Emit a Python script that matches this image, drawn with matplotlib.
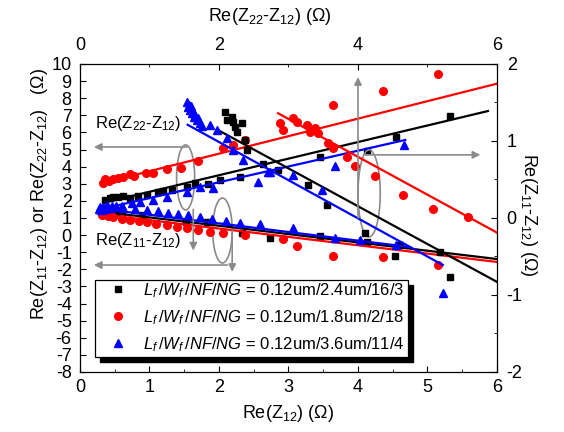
import matplotlib
matplotlib.use("Agg")
import matplotlib.pyplot as plt
from matplotlib.patches import Ellipse, Rectangle
from matplotlib.ticker import MultipleLocator

plt.rcParams["font.family"] = ["Liberation Sans", "DejaVu Sans"]
plt.rcParams["mathtext.fontset"] = "custom"
plt.rcParams["mathtext.rm"] = "Liberation Sans"
plt.rcParams["mathtext.it"] = "Liberation Sans:italic"
plt.rcParams["axes.unicode_minus"] = False

devices = ["0.12um/2.4um/16/3", "0.12um/1.8um/2/18", "0.12um/3.6um/11/4"]
colors = ["black", "red", "blue"]
markers = ["s", "o", "^"]
msizes = [4.2, 5.5, 5.8]

# ---- Re(Z22-Z12) vs Re(Z12)  (left / bottom axes)
z12_a_blk = [0.36, 0.43, 0.48, 0.55, 0.62, 0.72, 0.84, 0.96, 1.12, 1.20, 1.32, 1.54, 1.65, 1.84, 2.01, 2.30, 2.63, 2.85, 3.45, 4.13, 4.55, 5.32]
z22_a_blk = [2.05, 2.17, 2.22, 2.22, 2.28, 2.17, 2.28, 2.34, 2.52, 2.58, 2.64, 2.81, 3.05, 3.00, 3.22, 3.40, 4.16, 3.80, 4.56, 4.92, 5.73, 6.96]
z12_a_red = [0.33, 0.36, 0.42, 0.48, 0.55, 0.62, 0.72, 0.78, 0.95, 1.05, 1.25, 1.45, 1.70, 2.06, 2.20, 2.37, 3.64, 4.36, 5.15]
z22_a_red = [3.05, 3.25, 3.15, 3.30, 3.35, 3.40, 3.55, 3.45, 3.60, 3.65, 3.85, 3.90, 4.35, 5.10, 5.27, 5.56, 7.60, 8.42, 9.42]
z12_a_blu = [0.28, 0.30, 0.33, 0.36, 0.39, 0.45, 0.52, 0.60, 0.75, 0.86, 1.05, 1.25, 1.54, 1.73, 1.92, 2.56, 2.70, 3.67, 4.66]
z22_a_blu = [1.55, 1.45, 1.65, 1.52, 1.76, 1.60, 1.72, 1.70, 1.88, 1.93, 2.05, 2.22, 2.52, 2.81, 2.75, 3.10, 3.69, 4.04, 5.27]

# ---- Re(Z11-Z12) vs Re(Z12)  (left / bottom axes)
z12_f_blk = [0.35, 0.42, 0.50, 0.60, 0.89, 1.10, 1.53, 1.83, 2.33, 2.73, 3.45, 4.13, 4.53, 4.60]
z11_f_blk = [1.40, 1.30, 1.35, 1.25, 1.20, 0.70, 0.77, 0.77, 0.12, -0.17, -0.05, -0.40, -1.22, -0.58]
z12_f_red = [0.32, 0.40, 0.48, 0.60, 0.72, 0.85, 0.96, 1.10, 1.25, 1.40, 1.54, 1.70, 1.87, 2.06, 2.37, 2.92, 3.12, 3.64, 4.36, 5.15]
z11_f_red = [1.17, 1.10, 1.06, 0.95, 0.88, 0.80, 0.77, 0.65, 0.59, 0.50, 0.42, 0.30, 0.18, 0.12, 0.00, -0.23, -0.64, -1.22, -1.28, -1.75]
z12_f_blu = [0.29, 0.35, 0.46, 0.62, 0.79, 0.96, 1.12, 1.27, 1.41, 1.55, 1.73, 1.90, 2.10, 2.30, 2.59, 3.06, 3.67, 4.03, 4.55]
z11_f_blu = [1.62, 1.55, 1.68, 1.60, 1.52, 1.47, 1.38, 1.30, 1.22, 1.15, 1.05, 0.95, 0.85, 0.72, 0.65, 0.42, -0.17, -0.29, -0.55]

# ---- Re(Z11-Z12) vs Re(Z22-Z12)  (right / top axes)
z22_d_blk = [2.09, 2.11, 2.19, 2.20, 2.23, 2.26, 2.33, 2.37, 2.40, 3.28, 3.55, 4.10, 5.18, 5.32]
z11_d_blk = [1.38, 1.27, 1.31, 1.25, 1.18, 1.12, 1.23, 1.01, 0.88, 0.43, 0.17, -0.19, -0.44, -0.77]
z22_d_red = [2.88, 2.92, 3.06, 3.12, 3.27, 3.31, 3.38, 3.42, 3.57, 3.64, 3.84, 3.96, 4.24, 4.65, 5.08, 5.58]
z11_d_red = [1.23, 1.14, 1.30, 1.25, 1.21, 1.12, 1.17, 1.10, 0.97, 0.91, 0.79, 0.68, 0.55, 0.30, 0.12, 0.01]
z22_d_blu = [1.54, 1.55, 1.57, 1.58, 1.60, 1.61, 1.63, 1.64, 1.66, 1.68, 1.70, 1.72, 1.75, 1.87, 1.97, 2.11, 2.20, 2.35, 2.73, 3.06, 3.48, 5.22]
z11_d_blu = [1.50, 1.44, 1.47, 1.40, 1.45, 1.36, 1.38, 1.31, 1.34, 1.27, 1.30, 1.24, 1.20, 1.21, 1.14, 1.04, 0.88, 0.75, 0.60, 0.56, 0.36, -0.97]

# linear fits (end points)
fit_a_x = [[0.35, 5.87], [0.33, 6.0], [0.28, 4.68]]
fit_a_y = [[1.90, 7.25], [3.05, 8.85], [1.50, 5.56]]
fit_f_x = [[0.35, 6.0], [0.33, 6.0], [0.28, 4.75]]
fit_f_y = [[1.35, -1.40], [1.20, -1.57], [1.55, -0.70]]
fit_d_x = [[1.99, 6.0], [2.85, 6.0], [1.55, 5.22]]
fit_d_y = [[1.14, -0.83], [1.36, -0.19], [1.21, -0.61]]

asc = [(z12_a_blk, z22_a_blk), (z12_a_red, z22_a_red), (z12_a_blu, z22_a_blu)]
flat = [(z12_f_blk, z11_f_blk), (z12_f_red, z11_f_red), (z12_f_blu, z11_f_blu)]
desc = [(z22_d_blk, z11_d_blk), (z22_d_red, z11_d_red), (z22_d_blu, z11_d_blu)]

fig = plt.figure(figsize=(5.64, 4.32), dpi=100)
ax = fig.add_axes([0.1418, 0.1389, 0.7394, 0.713])
ax2 = fig.add_axes(ax.get_position(), frameon=False)
ax2.patch.set_visible(False)

handles = []
for i in range(3):
    c, m, s = colors[i], markers[i], msizes[i]
    h, = ax.plot(asc[i][0], asc[i][1], ls="none", marker=m, ms=s, color=c)
    ax.plot(flat[i][0], flat[i][1], ls="none", marker=m, ms=s, color=c)
    ax2.plot(desc[i][0], desc[i][1], ls="none", marker=m, ms=s, color=c)
    ax.plot(fit_a_x[i], fit_a_y[i], color=c, lw=1.6)
    ax.plot(fit_f_x[i], fit_f_y[i], color=c, lw=1.6)
    ax2.plot(fit_d_x[i], fit_d_y[i], color=c, lw=1.6)
    handles.append(h)

ax.set_xlim(0, 6)
ax.set_ylim(-8, 10)
ax.xaxis.set_major_locator(MultipleLocator(1))
ax.xaxis.set_minor_locator(MultipleLocator(0.5))
ax.yaxis.set_major_locator(MultipleLocator(1))
ax.tick_params(which="both", direction="in", labelsize=13)
ax.tick_params(which="major", length=4)
ax.tick_params(which="minor", length=2.5)
ax.tick_params(axis="y", pad=6)
ax.tick_params(axis="x", pad=5)

ax2.set_xlim(0, 6)
ax2.set_ylim(-2, 2)
ax2.xaxis.tick_top()
ax2.yaxis.tick_right()
ax2.xaxis.set_major_locator(MultipleLocator(2))
ax2.xaxis.set_minor_locator(MultipleLocator(1))
ax2.yaxis.set_major_locator(MultipleLocator(1))
ax2.yaxis.set_minor_locator(MultipleLocator(0.5))
ax2.tick_params(which="both", direction="in", labelsize=13, pad=7)
ax2.tick_params(which="major", length=4)
ax2.tick_params(which="minor", length=2.5)
for sp in ax.spines.values():
    sp.set_linewidth(0.9)

# axis titles
lab = dict(fontsize=13, ha="center", va="center")
ax.text(0.5, -0.135, r"Re(Z$_{12}$) (Ω)", transform=ax.transAxes, **lab)
ax.text(0.455, 1.155, r"Re(Z$_{22}$-Z$_{12}$) (Ω)", transform=ax.transAxes, **lab)
ax.text(-0.097, 0.578, r"Re(Z$_{11}$-Z$_{12}$) or Re(Z$_{22}$-Z$_{12}$)   (Ω)",
        transform=ax.transAxes, rotation=90, **lab)
ax.text(1.075, 0.51, r"Re(Z$_{11}$-Z$_{12}$) (Ω)", transform=ax.transAxes,
        rotation=270, **lab)

# grey guide ellipses and arrows
grey = "#8a8a8a"
arr = dict(arrowstyle="-|>", color=grey, lw=1.2, mutation_scale=11, shrinkA=0, shrinkB=0)
ax.add_patch(Ellipse((1.52, 3.37), 0.26, 3.8, fill=False, ec=grey, lw=1.2))
ax.annotate("", xy=(0.2, 5.15), xytext=(1.54, 5.15), arrowprops=arr)
ax.annotate("", xy=(1.63, -0.9), xytext=(1.63, 1.5), arrowprops=arr)
ax.add_patch(Ellipse((2.05, 0.27), 0.28, 3.8, fill=False, ec=grey, lw=1.2))
ax.annotate("", xy=(0.2, -1.75), xytext=(2.12, -1.75), arrowprops=arr)
ax.annotate("", xy=(2.19, -2.15), xytext=(2.19, 0.3), arrowprops=arr)
ax2.add_patch(Ellipse((4.16, 0.32), 0.32, 1.13, fill=False, ec=grey, lw=1.2))
ax2.annotate("", xy=(4.0, 1.83), xytext=(4.0, 0.0), arrowprops=arr)
ax2.annotate("", xy=(5.76, 0.82), xytext=(4.1, 0.82), arrowprops=arr)

ax.text(0.22, 6.55, r"Re(Z$_{22}$-Z$_{12}$)", fontsize=12, va="center")
ax.text(0.22, -0.3, r"Re(Z$_{11}$-Z$_{12}$)", fontsize=12, va="center")

# legend box with solid shadow
ax2.add_patch(Rectangle((0.048, 0.033), 0.751, 0.25, transform=ax2.transAxes,
                        fc="black", ec="black", zorder=6))
ax2.add_patch(Rectangle((0.036, 0.049), 0.751, 0.25, transform=ax2.transAxes,
                        fc="white", ec="black", lw=0.9, zorder=7))
labels = [r"$L_f\,/W_f\,/NF/NG$ = " + d for d in devices]
leg = ax2.legend(handles, labels, loc="upper left", bbox_to_anchor=(0.072, 0.295),
                 frameon=False, fontsize=12, handlelength=1.0, handletextpad=1.0,
                 borderpad=0, borderaxespad=0, labelspacing=0.5, numpoints=1)
leg.set_zorder(8)

fig.savefig("out.png", dpi=100)
